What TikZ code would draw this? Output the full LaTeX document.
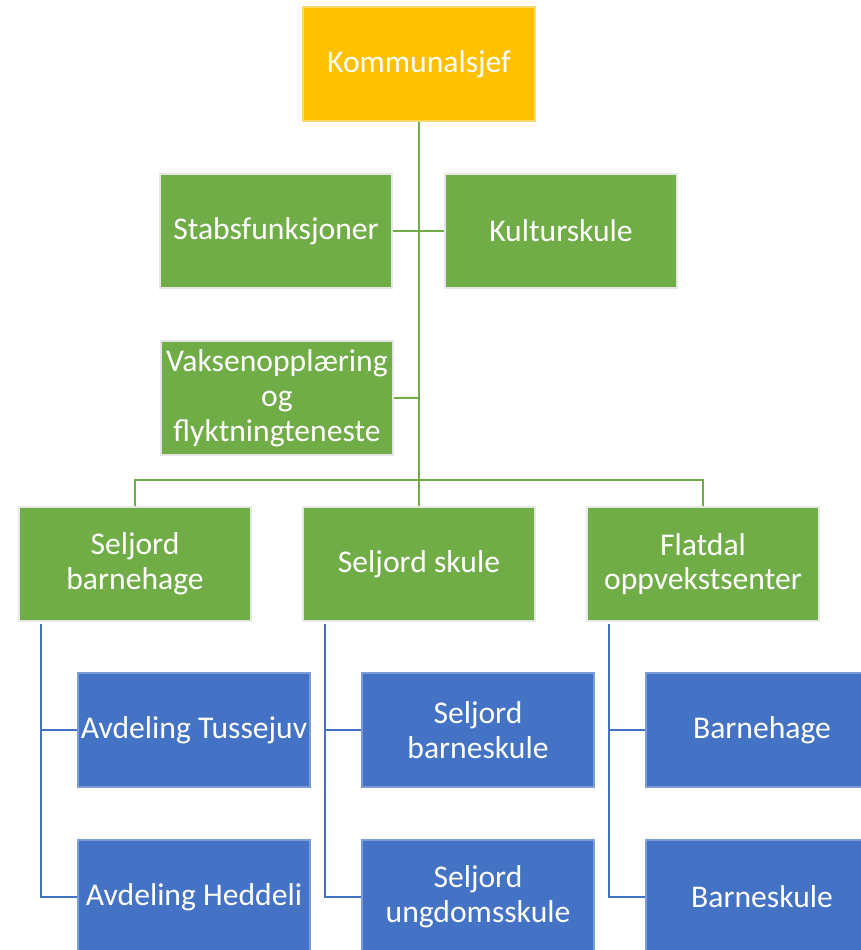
\documentclass[tikz,border=0pt]{standalone}
\usepackage{fontspec}
\setmainfont{Carlito}
\usepackage{tikz}
\usetikzlibrary{positioning}
\definecolor{chef}{HTML}{FFC000}
\definecolor{grn}{HTML}{70AD47}
\definecolor{blu}{HTML}{4472C4}
\definecolor{rim}{HTML}{E6E6E6}
\begin{document}
\begin{tikzpicture}[x=0.02cm,y=-0.02cm]
\tikzset{every node/.style={font=\fontsize{18}{19.8}\selectfont}}
\tikzstyle{unit} =[rectangle, text=white, align=center, draw=rim, line width=1pt, minimum width=232*0.02cm, minimum height=114*0.02cm, inner sep=1pt]
\tikzstyle{boss} =[unit, fill=chef, draw=chef!60!white]
\tikzstyle{dept} =[unit, fill=grn]
\tikzstyle{sub} =[unit, fill=blu, draw=blu!70!white]
\tikzstyle{gline} =[draw=grn, line width=1.3pt]
\tikzstyle{bline} =[draw=blu, line width=1.3pt]
\useasboundingbox (0,0) rectangle (861,950);

\node[boss](ks) at (419,64){Kommunalsjef};
\node[dept](stab) at (276,231){Stabsfunksjoner};
\node[dept](kultur) at (561,231){Kulturskule};
\node[dept](vaksen) at (277,398){Vaksenopplæring\\og\\flyktningteneste};
\node[dept](sbh) at (135,564){Seljord\\barnehage};
\node[dept](sks) at (419,564){Seljord skule};
\node[dept](flat) at (703,564){Flatdal\\oppvekstsenter};
\node[sub](tusse) at (194,730){Avdeling Tussejuv};
\node[sub](hedde) at (194,897){Avdeling Heddeli};
\node[sub](sbs) at (478,730){Seljord\\barneskule};
\node[sub](sus) at (478,897){Seljord\\ungdomsskule};
\node[sub](bhage) at (762,730){Barnehage};
\node[sub](bskule) at (762,897){Barneskule};
\coordinate (bus) at (419,480);
\coordinate (t1) at (41,624);
\coordinate (t2) at (325,624);
\coordinate (t3) at (609,624);

\draw [gline] (ks) to (sks);
\draw [gline] (stab) to (kultur);
\draw [gline] (vaksen.east) to (vaksen.east -| ks);
\draw [gline] (sbh.north) |- (bus) -| (flat.north);
\draw [bline] (t1) |- (hedde.west);
\draw [bline] (t1 |- tusse) to (tusse.west);
\draw [bline] (t2) |- (sus.west);
\draw [bline] (t2 |- sbs) to (sbs.west);
\draw [bline] (t3) |- (bskule.west);
\draw [bline] (t3 |- bhage) to (bhage.west);
\end{tikzpicture}
\end{document}
